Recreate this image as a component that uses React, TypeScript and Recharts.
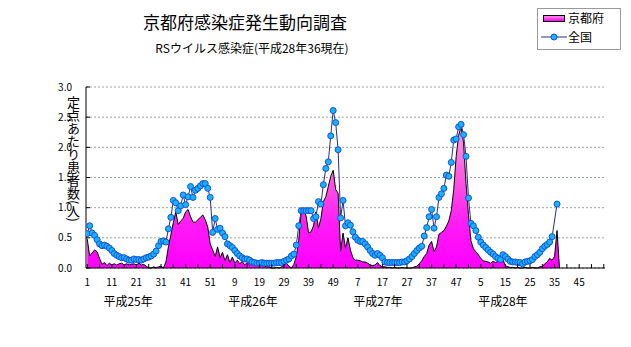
import React from 'react';
import { ComposedChart, Area, Line, XAxis, YAxis, CartesianGrid } from 'recharts';

// 定点あたり患者数, by week (52 weeks per year on this axis)
const yearNames = ['平成25年', '平成26年', '平成27年', '平成28年'];
const weeksPerYear = 52;

const national25 = [
  0.57, 0.70, 0.58, 0.54, 0.47, 0.40, 0.37, 0.38, 0.36, 0.33,
  0.29, 0.24, 0.21, 0.19, 0.17, 0.17, 0.15, 0.13, 0.13, 0.15,
  0.14, 0.14, 0.13, 0.15, 0.17, 0.18, 0.20, 0.23, 0.28, 0.37,
  0.44, 0.45, 0.43, 0.65, 0.84, 1.12, 1.08, 0.95, 1.03, 1.21,
  1.05, 1.18, 1.35, 1.17, 1.29, 1.32, 1.36, 1.40, 1.40, 1.32,
  1.17, 0.59,
];
const national26 = [
  0.82, 0.64, 0.66, 0.58, 0.52, 0.40, 0.37, 0.34, 0.29, 0.24,
  0.20, 0.17, 0.15, 0.15, 0.13, 0.10, 0.09, 0.08, 0.08, 0.09,
  0.08, 0.08, 0.08, 0.08, 0.08, 0.09, 0.09, 0.09, 0.11, 0.13,
  0.15, 0.20, 0.23, 0.38, 0.70, 0.95, 0.95, 0.95, 0.95, 0.95,
  0.82, 0.85, 1.10, 1.06, 1.38, 1.65, 1.76, 2.19, 2.61, 2.41,
  1.96, 0.83,
];
const national27 = [
  1.12, 0.70, 0.75, 0.71, 0.60, 0.51, 0.46, 0.44, 0.44, 0.40,
  0.35, 0.29, 0.24, 0.21, 0.24, 0.21, 0.17, 0.10, 0.09, 0.09,
  0.09, 0.09, 0.09, 0.09, 0.10, 0.10, 0.12, 0.15, 0.19, 0.24,
  0.29, 0.33, 0.36, 0.53, 0.67, 0.85, 0.97, 0.66, 0.85, 1.17,
  1.23, 1.32, 1.54, 1.52, 1.75, 2.12, 2.14, 2.34, 2.38, 2.21,
  1.85, 1.16,
];
const national28 = [
  0.74, 0.70, 0.62, 0.51, 0.43, 0.38, 0.34, 0.30, 0.26, 0.23,
  0.19, 0.16, 0.14, 0.22, 0.19, 0.15, 0.11, 0.10, 0.10, 0.09,
  0.09, 0.07, 0.10, 0.11, 0.12, 0.14, 0.19, 0.22, 0.26, 0.32,
  0.36, 0.39, 0.43, 0.52, null, 1.06,
];

const kyoto25 = [
  0.48, 0.20, 0.25, 0.30, 0.27, 0.16, 0.06, 0.09, 0.04, 0.08,
  0.05, 0.07, 0.05, 0.07, 0.08, 0.05, 0.07, 0.05, 0.06, 0.07,
  0.05, 0.08, 0.05, 0.06, 0.03, 0.00, 0.00, 0.02, 0.00, 0.02,
  0.03, 0.00, 0.10, 0.35, 0.55, 0.75, 0.93, 0.72, 0.78, 0.82,
  0.93, 0.97, 0.85, 0.76, 0.76, 0.80, 0.84, 0.88, 0.80, 0.68,
  0.40, 0.30,
];
const kyoto26 = [
  0.19, 0.35, 0.17, 0.26, 0.12, 0.22, 0.09, 0.18, 0.08, 0.13,
  0.07, 0.11, 0.05, 0.09, 0.05, 0.08, 0.04, 0.06, 0.03, 0.05,
  0.03, 0.02, 0.02, 0.00, 0.00, 0.01, 0.00, 0.02, 0.05, 0.08,
  0.03, 0.00, 0.06, 0.19, 0.46, 0.93, 0.96, 0.86, 0.58, 0.60,
  0.70, 0.93, 0.66, 0.82, 1.10, 1.18, 1.35, 1.52, 1.62, 1.30,
  1.24, 0.28,
];
const kyoto27 = [
  0.58, 0.33, 0.50, 0.30, 0.17, 0.13, 0.13, 0.12, 0.10, 0.10,
  0.08, 0.05, 0.04, 0.05, 0.09, 0.04, 0.02, 0.02, 0.01, 0.01,
  0.00, 0.01, 0.00, 0.00, 0.01, 0.00, 0.00, 0.00, 0.00, 0.02,
  0.03, 0.07, 0.12, 0.19, 0.24, 0.38, 0.44, 0.27, 0.35, 0.56,
  0.59, 0.62, 0.69, 0.78, 0.95, 1.30, 1.85, 2.20, 2.34, 2.07,
  1.40, 0.88,
];
// last value: the empty week after 36, drawn as zero like the original
const kyoto28 = [
  0.45, 0.32, 0.27, 0.22, 0.16, 0.12, 0.11, 0.10, 0.08, 0.11,
  0.09, 0.11, 0.10, 0.14, 0.04, 0.02, 0.01, 0.01, 0.00, 0.01,
  0.00, 0.00, 0.01, 0.00, 0.00, 0.01, 0.00, 0.00, 0.02, 0.02,
  0.07, 0.10, 0.16, 0.13, 0.19, 0.62, 0,
];

const yTicks = [0, 0.5, 1, 1.5, 2, 2.5, 3];

const nationalByYear = [national25, national26, national27, national28];
const kyotoByYear = [kyoto25, kyoto26, kyoto27, kyoto28];

const data: { i: number; national?: number | null; kyoto?: number }[] = [];
for (let y = 0; y < yearNames.length; y++) {
  for (let w = 0; w < weeksPerYear; w++) {
    const n = nationalByYear[y][w];
    const k = kyotoByYear[y][w];
    data.push({
      i: y * weeksPerYear + w,
      national: n === undefined ? undefined : n,
      kyoto: k === undefined ? undefined : k,
    });
  }
}

const xTicks: number[] = [];
for (let t = 0; t <= 210; t += 5) xTicks.push(t);
const yearTicks = yearNames.map((_, k) => 16.6 + k * 50.8);

const FONT = '"Noto Sans CJK JP", "Noto Sans", sans-serif';

const WeekTick = (props: any) => {
  const { x, y, payload } = props;
  const i = payload.value as number;
  return (
    <g>
      <line x1={x} x2={x} y1={y} y2={y - 4} stroke="#000" strokeWidth={1} />
      {i % 10 === 0 && i <= 200 && (
        <text x={x} y={y + 18} textAnchor="middle" fontSize={10} fontFamily={FONT} fill="#000">
          {(i % weeksPerYear) + 1}
        </text>
      )}
    </g>
  );
};

const YearTick = (props: any) => {
  const { x, y, index } = props;
  return (
    <text x={x} y={y + 20} textAnchor="middle" fontSize={12} fontFamily={FONT} fill="#000">
      {yearNames[index]}
    </text>
  );
};

const ValueTick = (props: any) => {
  const { x, y, payload } = props;
  return (
    <g>
      <line x1={x} x2={x + 4} y1={y} y2={y} stroke="#000" strokeWidth={1} />
      <text x={x - 14} y={y + 3.5} textAnchor="end" fontSize={10} fontFamily={FONT} fill="#000">
        {(payload.value as number).toFixed(1)}
      </text>
    </g>
  );
};

export default function App() {
  return (
    <div
      style={{
        position: 'absolute',
        left: 0,
        top: 0,
        width: 631,
        height: 347,
        background: '#fff',
        fontFamily: FONT,
        color: '#000',
      }}
    >
      <div style={{ position: 'absolute', left: 0, top: 12, width: 490, textAlign: 'center', fontSize: 17, lineHeight: '20px' }}>
        京都府感染症発生動向調査
      </div>
      <div style={{ position: 'absolute', left: 0, top: 41, width: 504, textAlign: 'center', fontSize: 12, lineHeight: '14px' }}>
        RSウイルス感染症(平成28年36現在)
      </div>

      <div
        style={{
          position: 'absolute',
          left: 537,
          top: 8,
          width: 84,
          height: 42,
          border: '1px solid #9a9a9a',
          background: '#fff',
          boxSizing: 'border-box',
          fontSize: 12,
        }}
      >
        <div style={{ position: 'absolute', left: 5, top: 6, width: 22, height: 7, border: '1px solid #000', boxSizing: 'border-box', background: 'linear-gradient(#ff8fe0, #ff00ff)' }} />
        <div style={{ position: 'absolute', left: 30, top: 1, lineHeight: '16px' }}>京都府</div>
        <svg style={{ position: 'absolute', left: 3, top: 22 }} width={26} height={12}>
          <line x1={0} x2={26} y1={6} y2={6} stroke="#22308a" strokeWidth={1} />
          <circle cx={13} cy={6} r={3} fill="#14b4ff" stroke="#1850d8" strokeWidth={1} />
        </svg>
        <div style={{ position: 'absolute', left: 30, top: 20, lineHeight: '16px' }}>全国</div>
      </div>

      <div
        style={{
          position: 'absolute',
          left: 66,
          top: 96,
          writingMode: 'vertical-rl',
          fontSize: 13,
          lineHeight: '14px',
        }}
      >
        定点あたり患者数(人)
      </div>

      <ComposedChart
        width={631}
        height={347}
        data={data}
        margin={{ top: 87, right: 26, bottom: 39, left: 0 }}
        style={{ position: 'absolute', left: 0, top: 0 }}
      >
        <defs>
          <linearGradient id="kyotoFill" x1="0" y1="0" x2="0" y2="1">
            <stop offset="0%" stopColor="#ff9ce0" />
            <stop offset="35%" stopColor="#ff5ae0" />
            <stop offset="70%" stopColor="#ff1af5" />
            <stop offset="100%" stopColor="#ff00ff" />
          </linearGradient>
        </defs>
        <CartesianGrid vertical={false} stroke="#98a898" strokeDasharray="2 2" />
        <XAxis
          dataKey="i"
          type="number"
          domain={[-0.5, 210.5]}
          ticks={xTicks}
          interval={0}
          height={18}
          tickSize={0}
          tickMargin={0}
          tickLine={false}
          axisLine={{ stroke: '#000', strokeWidth: 1 }}
          tick={<WeekTick />}
          allowDataOverflow
        />
        <XAxis
          xAxisId="year"
          dataKey="i"
          type="number"
          domain={[-0.5, 210.5]}
          ticks={yearTicks}
          interval={0}
          height={22}
          tickSize={0}
          tickMargin={0}
          tickLine={false}
          axisLine={false}
          tick={<YearTick />}
        />
        <YAxis
          domain={[0, 3]}
          ticks={yTicks}
          interval={0}
          width={86}
          tickSize={0}
          tickMargin={0}
          tickLine={false}
          axisLine={{ stroke: '#000', strokeWidth: 1 }}
          tick={<ValueTick />}
        />
        <Area
          type="linear"
          dataKey="kyoto"
          stroke="#000"
          strokeWidth={1}
          fill="url(#kyotoFill)"
          fillOpacity={1}
          dot={false}
          activeDot={false}
          isAnimationActive={false}
        />
        <Line
          type="linear"
          dataKey="national"
          stroke="#22308a"
          strokeWidth={1}
          dot={{ r: 3, fill: '#14b4ff', stroke: '#1850d8', strokeWidth: 1 }}
          activeDot={false}
          connectNulls
          isAnimationActive={false}
        />
      </ComposedChart>
    </div>
  );
}
